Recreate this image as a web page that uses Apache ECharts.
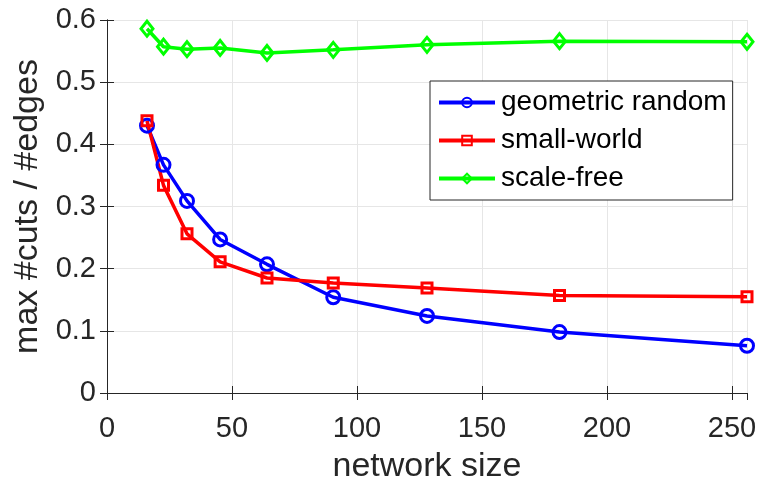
<!DOCTYPE html>
<html>
<head>
<meta charset="utf-8">
<script src="https://cdn.jsdelivr.net/npm/echarts@6/dist/echarts.min.js"></script>
<style>
  html, body { margin: 0; padding: 0; background: #fff; }
  #chart { width: 758px; height: 484px; }
</style>
</head>
<body>
<div id="chart"></div>
<script>
// network sizes (x)
const sizes = [16, 22.6, 32, 45.25, 64, 90.5, 128, 181, 256];
// max #cuts / #edges per model
const geometricRandom = [0.430, 0.367, 0.309, 0.247, 0.207, 0.154, 0.124, 0.098, 0.076];
const smallWorld = [0.438, 0.334, 0.256, 0.211, 0.185, 0.177, 0.169, 0.157, 0.155];
const scaleFree = [0.586, 0.557, 0.553, 0.555, 0.547, 0.552, 0.560, 0.566, 0.565];
const seriesNames = ['geometric random', 'small-world', 'scale-free'];

const font = 'Liberation Sans, Arial, Helvetica, sans-serif';
const axisColor = '#262626';

function pairs(ys) {
  return sizes.map((x, i) => [x, ys[i]]);
}

function lineSeries(name, ys, color, symbol, size) {
  return {
    name: name,
    type: 'line',
    data: pairs(ys),
    symbol: symbol,
    symbolSize: size,
    showAllSymbol: true,
    lineStyle: { color: color, width: 3.5 },
    itemStyle: { color: 'rgba(255,255,255,0)', borderColor: color, borderWidth: 3 },
    emphasis: { disabled: true },
    z: 3
  };
}

let chart = echarts.init(document.getElementById('chart'));
let option = {
  animation: false,
  backgroundColor: '#fff',
  grid: { left: 107, top: 20, right: 11, bottom: 91, outerBoundsMode: 'none', containLabel: false },
  legend: {
    data: seriesNames,
    orient: 'vertical',
    left: 430,
    top: 81,
    itemWidth: 56,
    itemHeight: 12,
    itemGap: 7,
    padding: [6, 6, 6, 7],
    borderColor: axisColor,
    borderWidth: 1,
    borderRadius: 0,
    backgroundColor: '#fff',
    lineStyle: { width: 4 },
    textStyle: { fontFamily: font, fontSize: 28, lineHeight: 31, color: '#000', padding: [0, 0, 0, 1] }
  },
  xAxis: [
    {
      type: 'value', min: 0, max: 256, interval: 50,
      name: 'network size', nameLocation: 'middle', nameGap: 57,
      nameTextStyle: { fontFamily: font, fontSize: 34, color: axisColor },
      axisLine: { show: true, lineStyle: { color: axisColor, width: 1 } },
      axisTick: { inside: true, length: 7, lineStyle: { color: axisColor } },
      axisLabel: { fontFamily: font, fontSize: 29, color: axisColor, margin: 21, showMaxLabel: false },
      splitLine: { show: true, lineStyle: { color: '#e6e6e6', width: 1 } }
    },
    {
      type: 'value', min: 0, max: 256, interval: 50, position: 'top',
      axisLine: { show: true, lineStyle: { color: axisColor, width: 1 } },
      axisTick: { inside: true, length: 7, lineStyle: { color: axisColor } },
      axisLabel: { show: false },
      splitLine: { show: false }
    }
  ],
  yAxis: [
    {
      type: 'value', min: 0, max: 0.6, interval: 0.1,
      name: 'max #cuts / #edges', nameLocation: 'middle', nameGap: 60,
      nameTextStyle: { fontFamily: font, fontSize: 34, color: axisColor },
      axisLine: { show: true, lineStyle: { color: axisColor, width: 1 } },
      axisTick: { inside: true, length: 7, lineStyle: { color: axisColor } },
      axisLabel: { fontFamily: font, fontSize: 29, color: axisColor, margin: 11,
        formatter: v => (v === 0 ? '0' : v.toFixed(1)) },
      splitLine: { show: true, lineStyle: { color: '#e6e6e6', width: 1 } }
    },
    {
      type: 'value', min: 0, max: 0.6, interval: 0.1, position: 'right',
      axisLine: { show: true, lineStyle: { color: axisColor, width: 1 } },
      axisTick: { inside: true, length: 7, lineStyle: { color: axisColor } },
      axisLabel: { show: false },
      splitLine: { show: false }
    }
  ],
  series: [
    lineSeries(seriesNames[0], geometricRandom, '#0000ff', 'circle', 13),
    lineSeries(seriesNames[1], smallWorld, '#ff0000', 'rect', 10),
    lineSeries(seriesNames[2], scaleFree, '#00ff00', 'diamond', [12, 15])
  ]
};
option && chart.setOption(option);
</script>
</body>
</html>
